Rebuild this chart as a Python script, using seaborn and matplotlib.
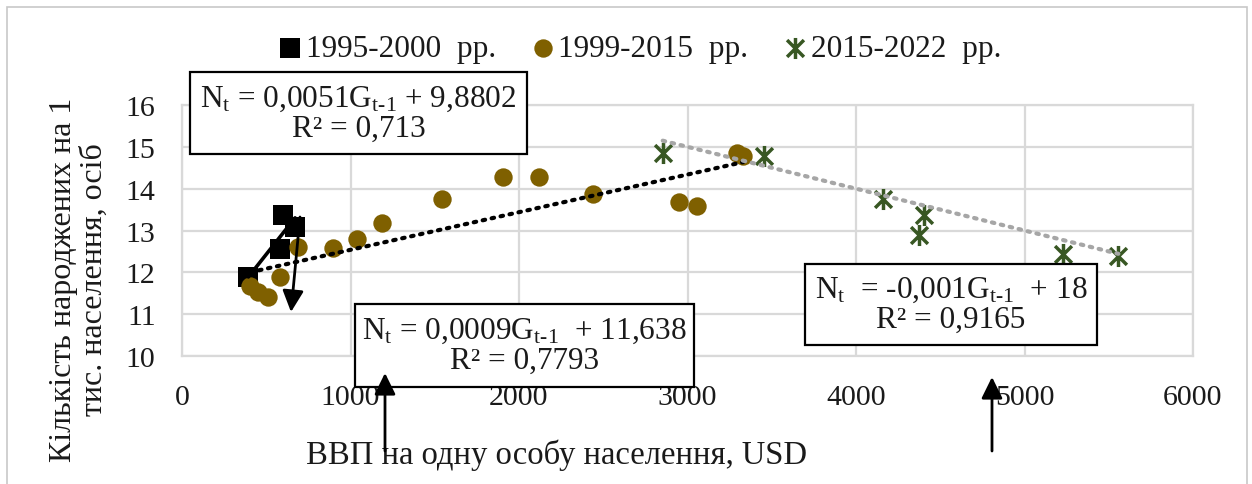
import numpy as np
import pandas as pd
import matplotlib
matplotlib.use("Agg")
import matplotlib.pyplot as plt
import seaborn as sns
from matplotlib.patches import Rectangle, FancyArrowPatch
from matplotlib.path import Path

# GDP per capita (USD, previous year) vs births per 1000 population
g_1995 = [394, 582, 601, 671]
n_1995 = [11.88, 12.56, 13.36, 13.08]

g_1999 = [404, 453, 512, 582, 690, 898, 1041, 1185, 1541, 1907, 2119,
          2441, 2951, 3054, 3292, 3331]
n_1999 = [11.68, 11.52, 11.40, 11.88, 12.60, 12.58, 12.80, 13.18, 13.76,
          14.27, 14.27, 13.88, 13.68, 13.58, 14.86, 14.78]

g_2015 = [2853, 3454, 4162, 4403, 4376, 5230, 5557]
n_2015 = [14.86, 14.78, 13.76, 13.37, 12.89, 12.44, 12.40]

series_labels = ["1995-2000  рр.", "1999-2015  рр.", "2015-2022  рр."]

# Linear trend coefficients: N_t = a * G_{t-1} + b
trend_slopes = [0.0051, 0.0009, -0.001]
trend_intercepts = [9.8802, 11.638, 18]
eq_texts = [
    "N$_\\mathrm{t}$ = 0,0051G$_\\mathrm{t\\text{-}1}$ + 9,8802\nR² = 0,713",
    "N$_\\mathrm{t}$ = 0,0009G$_\\mathrm{t\\text{-}1}$  + 11,638\nR² = 0,7793",
    "N$_\\mathrm{t}$  = -0,001G$_\\mathrm{t\\text{-}1}$  + 18\nR² = 0,9165",
]

x_ticks = [0, 1000, 2000, 3000, 4000, 5000, 6000]
y_ticks = [10, 11, 12, 13, 14, 15, 16]

sns.set_theme(style="white")
plt.rcParams["font.family"] = ["Liberation Serif", "DejaVu Serif"]
plt.rcParams["mathtext.fontset"] = "custom"
plt.rcParams["mathtext.rm"] = "Liberation Serif"
plt.rcParams["mathtext.it"] = "Liberation Serif:italic"

W, H = 1252, 485
fig = plt.figure(figsize=(W / 100, H / 100), dpi=100)


def fx(px):
    return px / W


def fy(py):
    return 1 - py / H


ax = fig.add_axes([fx(182), fy(357), fx(1193) - fx(182), fy(106) - fy(357)])

grid_c = "#d9d9d9"
black = "#000000"
brown = "#7f6000"
green = "#385723"
text_c = "#1a1a1a"

# asterisk marker: X with a vertical stroke
star = Path([(-1, -1), (1, 1), (-1, 1), (1, -1), (0, -1.25), (0, 1.25)],
            [Path.MOVETO, Path.LINETO, Path.MOVETO, Path.LINETO,
             Path.MOVETO, Path.LINETO])

df1 = pd.DataFrame({"g": g_1995, "n": n_1995})
df2 = pd.DataFrame({"g": g_1999, "n": n_1999})
df3 = pd.DataFrame({"g": g_2015, "n": n_2015})

sns.scatterplot(data=df1, x="g", y="n", ax=ax, marker="s", s=190,
                color=black, edgecolor=black, linewidth=0,
                label=series_labels[0], zorder=3)
sns.scatterplot(data=df2, x="g", y="n", ax=ax, marker="o", s=175,
                color=brown, edgecolor=brown, linewidth=0,
                label=series_labels[1], zorder=4)
sns.scatterplot(data=df3, x="g", y="n", ax=ax, marker=star, s=230,
                color=green, edgecolor=green, linewidth=2.5,
                label=series_labels[2], zorder=5)

# trend lines over each series' GDP range
trend_styles = [
    dict(color=black, linewidth=2.6, linestyle="-"),
    dict(color=black, linewidth=3.0, linestyle=(0, (0.6, 1.6)),
         dash_capstyle="round"),
    dict(color="#a6a6a6", linewidth=3.0, linestyle=(0, (0.6, 1.6)),
         dash_capstyle="round"),
]
for gs, a, b, st in zip([g_1995, g_1999, g_2015], trend_slopes,
                        trend_intercepts, trend_styles):
    xs = np.array([min(gs), max(gs)])
    ax.plot(xs, a * xs + b, zorder=6, **st)

ax.set_xlim(0, 6000)
ax.set_ylim(10, 16)
ax.set_xticks(x_ticks)
ax.set_yticks(y_ticks)
ax.set_xticklabels([str(v) for v in x_ticks])
ax.set_yticklabels([str(v) for v in y_ticks])
ax.tick_params(axis="both", length=0, labelsize=21.5, colors=text_c)
ax.tick_params(axis="y", pad=19)
ax.tick_params(axis="x", pad=20)
ax.grid(True, color=grid_c, linewidth=1.6)
ax.set_axisbelow(True)
for sp in ax.spines.values():
    sp.set_color(grid_c)
    sp.set_linewidth(1.6)
ax.set_xlabel("")
ax.set_ylabel("")

handles, labels = ax.get_legend_handles_labels()
ax.get_legend().remove()
fig.legend(handles, labels, loc="center", ncol=3,
           bbox_to_anchor=(fx(640), fy(50)), frameon=False,
           fontsize=22.5, handlelength=0.7, handletextpad=0.15,
           columnspacing=1.15, borderpad=0, markerscale=1.0,
           labelcolor=text_c)

# axis titles
fig.text(fx(557), fy(455), "ВВП на одну особу населення, USD",
         ha="center", va="center", fontsize=23.5, color=text_c)
fig.text(fx(79), fy(280), "Кількість народжених на 1\nтис. населення, осіб",
         ha="center", va="center", rotation=90, fontsize=23,
         linespacing=1.12, color=text_c)

# equation boxes (left, top, right, bottom in pixels)
boxes = [(190, 73, 527, 155), (355, 305, 694, 388), (805, 265, 1097, 346)]
for (l, t, r, bt), txt in zip(boxes, eq_texts):
    fig.add_artist(Rectangle((fx(l), fy(bt)), fx(r) - fx(l), fy(t) - fy(bt),
                             transform=fig.transFigure, facecolor="white",
                             edgecolor="black", linewidth=1.6, zorder=10))
    fig.text(fx((l + r) / 2), fy((t + bt) / 2), txt, ha="center",
             va="center", fontsize=22.5, linespacing=1.05, zorder=11,
             color=text_c)

# pointer arrows
arrows = [((300, 218), (291, 313)), ((385, 452), (385, 374)),
          ((992, 452), (992, 378))]
for (x0, y0), (x1, y1) in arrows:
    fig.add_artist(FancyArrowPatch((fx(x0), fy(y0)), (fx(x1), fy(y1)),
                                   transform=fig.transFigure,
                                   arrowstyle="-|>,head_length=0.65,head_width=0.32",
                                   mutation_scale=20, color="black",
                                   linewidth=2, zorder=12,
                                   shrinkA=0, shrinkB=0))

# chart area frame
fig.add_artist(Rectangle((fx(7), fy(H + 10)), fx(1247) - fx(7),
                         fy(8) - fy(H + 10), transform=fig.transFigure,
                         facecolor="none", edgecolor="#c8c8c8",
                         linewidth=1.2, zorder=0))

fig.savefig("out.png", dpi=100)
